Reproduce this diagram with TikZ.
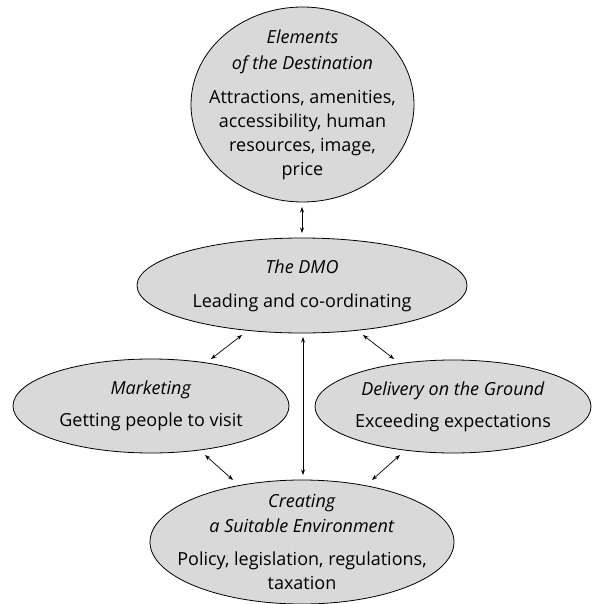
\documentclass[tikz,border=0pt]{standalone}
\usepackage{fontspec}
\setmainfont{Open Sans}
\usetikzlibrary{shapes.geometric,arrows.meta}
\definecolor{bubble}{HTML}{D9D9D9}
\begin{document}
\begin{tikzpicture}[x=1pt,y=-1pt,
  bub/.style={ellipse,draw,fill=bubble,line width=0.8pt,inner sep=0pt},
  txt/.style={inner sep=0pt,align=center,font=\fontsize{18}{24}\selectfont},
  link/.style={{Stealth[length=5.5pt,width=4pt]}-{Stealth[length=5.5pt,width=4pt]},line width=0.7pt}]
\useasboundingbox (0,0) rectangle (591,604);
\node[bub,minimum width=223pt,minimum height=195pt] (elem) at (302.5,104.5) {};
\node[txt] (elemt) at (elem.center) {\textit{Elements}\\[2pt]\textit{of the Destination}\\[10pt]Attractions, amenities,\\accessibility, human\\resources, image,\\price};
\node[bub,minimum width=330pt,minimum height=95pt] (dmo) at (302,285.5) {};
\node[txt] (dmot) at (dmo.center) {\textit{The DMO}\\[10pt]Leading and co-ordinating};
\node[bub,minimum width=276pt,minimum height=94pt] (mkt) at (151,406) {};
\node[txt] (mktt) at (mkt.center) {\textit{Marketing}\\[8pt]Getting people to visit};
\node[bub,minimum width=276pt,minimum height=93pt] (del) at (453,406.5) {};
\node[txt] (delt) at (del.center) {\textit{Delivery on the Ground}\\[8pt]Exceeding expectations};
\node[bub,minimum width=304pt,minimum height=124pt] (env) at (302,542) {};
\node[txt] (envt) at (env.center) {\textit{Creating}\\[1pt]\textit{a Suitable Environment}\\[9pt]Policy, legislation, regulations,\\taxation};
\coordinate (a1) at (302,207); \coordinate (a2) at (302,233);
\coordinate (b1) at (303,337); \coordinate (b2) at (303,475);
\coordinate (c1) at (211,359); \coordinate (c2) at (242,335);
\coordinate (d1) at (363,335); \coordinate (d2) at (394,359);
\coordinate (e1) at (205,455); \coordinate (e2) at (233,480);
\coordinate (f1) at (400,455); \coordinate (f2) at (372,480);
\draw[link] (a1) -- (a2);
\draw[link] (b1) -- (b2);
\draw[link] (c1) -- (c2);
\draw[link] (d1) -- (d2);
\draw[link] (e1) -- (e2);
\draw[link] (f1) -- (f2);
\end{tikzpicture}
\end{document}
